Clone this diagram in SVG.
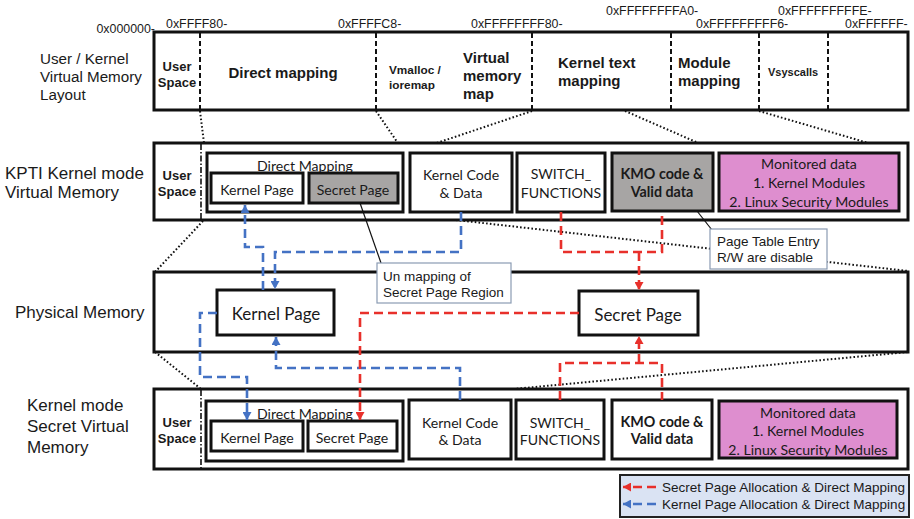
<svg xmlns="http://www.w3.org/2000/svg" width="914" height="519" viewBox="0 0 914 519">
  <style>
    .hex { font-family: "Liberation Sans", Arial, sans-serif; font-size: 12.4px; fill: #1a1a1a; dominant-baseline: central; }
    .side { font-family: "Liberation Sans", Arial, sans-serif; font-size: 17px; fill: #1a1a1a; dominant-baseline: central; }
    .sidesm { font-size: 15.2px; }
    .seg { font-family: "Liberation Sans", Arial, sans-serif; font-weight: bold; fill: #1a1a1a; dominant-baseline: central; }
    .box { font-family: Lato, "Open Sans", sans-serif; font-size: 14.1px; fill: #1a1a1a; dominant-baseline: central; text-anchor: middle; }
    .boxb { font-family: Lato, "Open Sans", sans-serif; font-size: 14.3px; font-weight: bold; fill: #1a1a1a; dominant-baseline: central; text-anchor: middle; }
    .big { font-size: 17px; }
    .note { font-family: "Liberation Sans", Arial, sans-serif; font-size: 13.5px; fill: #1a1a1a; dominant-baseline: central; }
    .frame { fill: #ffffff; stroke: #111111; stroke-width: 3; }
    .cell { fill: #ffffff; stroke: #111111; stroke-width: 3; }
    .gray { fill: #a7a5a4; }
    .pink { fill: #de8ecf; }
    .div { stroke: #111111; stroke-width: 2; stroke-dasharray: 5 3; fill: none; }
    .dashdot { stroke: #111111; stroke-width: 1.6; stroke-dasharray: 6 2 1.5 2; fill: none; }
    .guide { stroke: #111111; stroke-width: 2; stroke-dasharray: 1.6 2.2; fill: none; }
    .red { stroke: #e8302b; stroke-width: 2.6; stroke-dasharray: 9 5; fill: none; }
    .blue { stroke: #4472c4; stroke-width: 2.6; stroke-dasharray: 9 5; fill: none; }
    .callout { fill: #ffffff; stroke: #8a9bb3; stroke-width: 1.2; }
    .lead { stroke: #111111; stroke-width: 1.2; fill: none; }
  </style>
  <defs>
    <marker id="arrRed" markerUnits="userSpaceOnUse" markerWidth="9" markerHeight="9" refX="8" refY="4.5" orient="auto">
      <path d="M0,0 L8,4.5 L0,9 z" fill="#e8302b"/>
    </marker>
    <marker id="arrBlue" markerUnits="userSpaceOnUse" markerWidth="9" markerHeight="9" refX="8" refY="4.5" orient="auto">
      <path d="M0,0 L8,4.5 L0,9 z" fill="#4472c4"/>
    </marker>
  </defs>

  <rect width="914" height="519" fill="#ffffff"/>

  <!-- address markers above the layout bar -->
  <g id="addresses">
    <text class="hex" x="155" y="29" text-anchor="end">0x000000-</text>
    <text class="hex" x="166" y="24">0xFFFF80-</text>
    <text class="hex" x="338" y="24">0xFFFFC8-</text>
    <text class="hex" x="471" y="24">0xFFFFFFFF80-</text>
    <text class="hex" x="606" y="11">0xFFFFFFFFA0-</text>
    <text class="hex" x="696" y="24">0xFFFFFFFFF6-</text>
    <text class="hex" x="778" y="11">0xFFFFFFFFFE-</text>
    <text class="hex" x="845" y="24">0xFFFFFF-</text>
  </g>

  <!-- row captions -->
  <g id="captions">
    <text class="side sidesm" x="40" y="58">User / Kernel</text>
    <text class="side sidesm" x="40" y="76">Virtual Memory</text>
    <text class="side sidesm" x="40" y="94">Layout</text>
    <text class="side" x="5" y="173">KPTI Kernel mode</text>
    <text class="side" x="5" y="192">Virtual Memory</text>
    <text class="side" x="15" y="312">Physical Memory</text>
    <text class="side" x="27" y="405">Kernel mode</text>
    <text class="side" x="27" y="426">Secret Virtual</text>
    <text class="side" x="27" y="447">Memory</text>
  </g>

  <!-- projection guides between rows -->
  <g id="guides">
    <line class="guide" x1="200" y1="111" x2="204" y2="143"/>
    <line class="guide" x1="376" y1="111" x2="404" y2="152"/>
    <line class="guide" x1="532" y1="111" x2="410" y2="152"/>
    <line class="guide" x1="625" y1="111" x2="719" y2="152"/>
    <line class="guide" x1="759" y1="111" x2="899" y2="152"/>
    <line class="guide" x1="203" y1="221" x2="155" y2="272"/>
    <line class="guide" x1="403" y1="214" x2="908" y2="271"/>
    <line class="guide" x1="155" y1="352" x2="201" y2="389"/>
    <line class="guide" x1="407" y1="399" x2="908" y2="352"/>
  </g>

  <!-- layout bar -->
  <g id="layout">
    <rect class="frame" x="154" y="32" width="754" height="78"/>
    <line class="div" x1="200" y1="33" x2="200" y2="109"/>
    <line class="div" x1="376" y1="33" x2="376" y2="109"/>
    <line class="div" x1="532" y1="33" x2="532" y2="109"/>
    <line class="div" x1="671" y1="33" x2="671" y2="109"/>
    <line class="div" x1="759" y1="33" x2="759" y2="109"/>
    <line class="div" x1="828" y1="33" x2="828" y2="109"/>
    <text class="seg" font-size="13" x="177" y="66" text-anchor="middle">User</text>
    <text class="seg" font-size="13" x="177" y="82" text-anchor="middle">Space</text>
    <text class="seg" font-size="15" x="283" y="72" text-anchor="middle">Direct mapping</text>
    <text class="seg" font-size="11.8" x="389" y="70">Vmalloc /</text>
    <text class="seg" font-size="11.8" x="389" y="85">ioremap</text>
    <text class="seg" font-size="15" x="463" y="57">Virtual</text>
    <text class="seg" font-size="15" x="463" y="75">memory</text>
    <text class="seg" font-size="15" x="463" y="93">map</text>
    <text class="seg" font-size="15" x="558" y="62">Kernel text</text>
    <text class="seg" font-size="15" x="558" y="80">mapping</text>
    <text class="seg" font-size="15" x="678" y="62">Module</text>
    <text class="seg" font-size="15" x="678" y="80">mapping</text>
    <text class="seg" font-size="11" x="768" y="72">Vsyscalls</text>
  </g>

  <!-- KPTI kernel mode virtual memory -->
  <g id="kpti">
    <rect class="frame" x="154" y="143" width="754" height="77"/>
    <line class="dashdot" x1="201" y1="144" x2="201" y2="219"/>
    <text class="seg" font-size="13" x="177" y="175" text-anchor="middle">User</text>
    <text class="seg" font-size="13" x="177" y="191" text-anchor="middle">Space</text>
  </g>
  <g id="kpti-direct">
    <rect class="cell" x="207" y="153" width="196" height="59"/>
    <text class="box" x="305" y="165">Direct Mapping</text>
  </g>
  <g id="kpti-kernel-page">
    <rect class="cell" x="211" y="173" width="92" height="30"/>
    <text class="box" x="257" y="189">Kernel Page</text>
  </g>
  <g id="kpti-secret-page">
    <rect class="cell gray" x="309" y="173" width="89" height="30"/>
    <text class="box" x="353" y="189">Secret Page</text>
  </g>
  <g id="kpti-kernel-code">
    <rect class="cell" x="410" y="153" width="102" height="59"/>
    <text class="box" x="461" y="174">Kernel Code</text>
    <text class="box" x="461" y="192">&amp; Data</text>
  </g>
  <g id="kpti-switch">
    <rect class="cell" x="517" y="153" width="88" height="59"/>
    <text class="box" x="561" y="173">SWITCH_</text>
    <text class="box" x="561" y="192">FUNCTIONS</text>
  </g>
  <g id="kpti-kmo">
    <rect class="cell gray" x="612" y="153" width="101" height="58"/>
    <text class="boxb" x="662" y="173">KMO code &amp;</text>
    <text class="boxb" x="662" y="191">Valid data</text>
  </g>
  <g id="kpti-monitored">
    <rect class="cell pink" x="719" y="153" width="180" height="58"/>
    <text class="box" x="809" y="163">Monitored data</text>
    <text class="box" x="809" y="182">1. Kernel Modules</text>
    <text class="box" x="809" y="201">2. Linux Security Modules</text>
  </g>

  <!-- physical memory -->
  <g id="physical">
    <rect class="frame" x="154" y="272" width="754" height="80"/>
  </g>
  <g id="phys-kernel-page">
    <rect class="cell" x="217" y="290" width="117" height="45"/>
    <text class="box big" x="276" y="313">Kernel Page</text>
  </g>
  <g id="phys-secret-page">
    <rect class="cell" x="579" y="291" width="119" height="44"/>
    <text class="box big" x="638" y="314">Secret Page</text>
  </g>

  <!-- kernel mode secret virtual memory -->
  <g id="secret-vm">
    <rect class="frame" x="154" y="389" width="754" height="80"/>
    <line class="dashdot" x1="201" y1="390" x2="201" y2="468"/>
    <text class="seg" font-size="13" x="177" y="422" text-anchor="middle">User</text>
    <text class="seg" font-size="13" x="177" y="438" text-anchor="middle">Space</text>
  </g>
  <g id="svm-direct">
    <rect class="cell" x="206" y="401" width="197" height="60"/>
    <text class="box" x="305" y="413">Direct Mapping</text>
  </g>
  <g id="svm-kernel-page">
    <rect class="cell" x="211" y="421" width="92" height="30"/>
    <text class="box" x="257" y="437">Kernel Page</text>
  </g>
  <g id="svm-secret-page">
    <rect class="cell" x="308" y="421" width="89" height="30"/>
    <text class="box" x="352" y="437">Secret Page</text>
  </g>
  <g id="svm-kernel-code">
    <rect class="cell" x="409" y="400" width="102" height="59"/>
    <text class="box" x="460" y="422">Kernel Code</text>
    <text class="box" x="460" y="439">&amp; Data</text>
  </g>
  <g id="svm-switch">
    <rect class="cell" x="516" y="400" width="88" height="59"/>
    <text class="box" x="560" y="422">SWITCH_</text>
    <text class="box" x="560" y="439">FUNCTIONS</text>
  </g>
  <g id="svm-kmo">
    <rect class="cell" x="612" y="400" width="100" height="59"/>
    <text class="boxb" x="662" y="421">KMO code &amp;</text>
    <text class="boxb" x="662" y="438">Valid data</text>
  </g>
  <g id="svm-monitored">
    <rect class="cell pink" x="719" y="401" width="178" height="57"/>
    <text class="box" x="808" y="412">Monitored data</text>
    <text class="box" x="808" y="430">1. Kernel Modules</text>
    <text class="box" x="808" y="449">2. Linux Security Modules</text>
  </g>

  <!-- allocation / mapping connectors -->
  <g id="connectors">
    <path class="blue" d="M263,290 V247 H245 V205" marker-end="url(#arrBlue)"/>
    <path class="blue" d="M461,212 V252 H275 V289" marker-end="url(#arrBlue)"/>
    <path class="blue" d="M217,313 H200 V377 H247 V420" marker-end="url(#arrBlue)"/>
    <path class="blue" d="M460,400 V368 H276 V337" marker-end="url(#arrBlue)"/>
    <path class="red" d="M561,212 V252 H662 V211"/>
    <path class="red" d="M639,252 V290" marker-end="url(#arrRed)"/>
    <path class="red" d="M579,313 H360 V420" marker-end="url(#arrRed)"/>
    <path class="red" d="M560,400 V363 H662 V400"/>
    <path class="red" d="M639,363 V336" marker-end="url(#arrRed)"/>
  </g>

  <!-- annotations -->
  <g id="note-unmap">
    <line class="lead" x1="360" y1="203" x2="381" y2="263"/>
    <rect class="callout" x="377" y="263" width="134" height="40"/>
    <text class="note" font-size="13.2" x="383" y="276">Un mapping of</text>
    <text class="note" font-size="13.2" x="383" y="292">Secret Page Region</text>
  </g>
  <g id="note-pte">
    <line class="lead" x1="697" y1="211" x2="712" y2="230"/>
    <rect class="callout" x="710" y="229" width="117" height="40"/>
    <text class="note" x="717" y="241">Page Table Entry</text>
    <text class="note" x="717" y="257">R/W are disable</text>
  </g>

  <!-- legend -->
  <g id="legend">
    <rect x="620" y="475" width="289" height="42" fill="#dae3f3" stroke="#222222" stroke-width="2"/>
    <path class="red" d="M656,487 H623" stroke-dasharray="8 4" marker-end="url(#arrRed)"/>
    <path class="blue" d="M656,504 H623" stroke-dasharray="8 4" marker-end="url(#arrBlue)"/>
    <text class="note" font-size="13.6" x="662" y="487">Secret Page Allocation &amp; Direct Mapping</text>
    <text class="note" font-size="13.6" x="662" y="504">Kernel Page Allocation &amp; Direct Mapping</text>
  </g>
</svg>
